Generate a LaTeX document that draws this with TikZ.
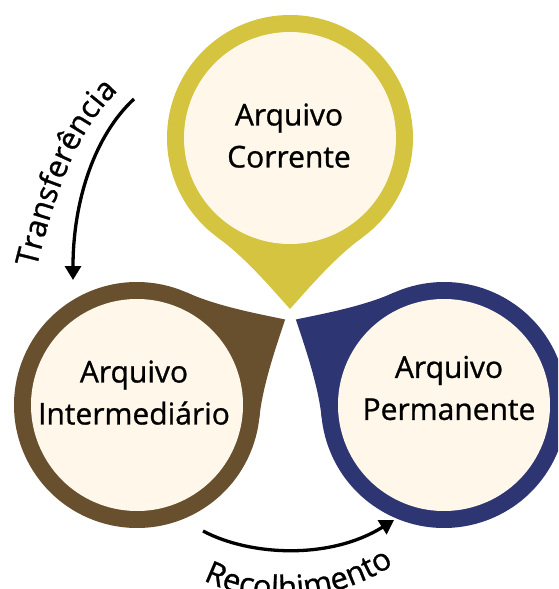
\documentclass[tikz,border=0pt]{standalone}
\usepackage{fontspec}
\setmainfont{Open Sans}[FakeBold=0.9]
\usetikzlibrary{arrows.meta,decorations.text}
\definecolor{pinY}{HTML}{D4C440}
\definecolor{pinB}{HTML}{684F2E}
\definecolor{pinN}{HTML}{2E3573}
\definecolor{cream}{HTML}{FFF8EA}
\newcommand{\nodefont}{\fontsize{30}{42}\selectfont}
\newcommand{\lblfont}{\fontsize{31}{36}\selectfont}
\newcommand{\drawpin}[4]{%
  \begin{scope}[shift={(#1,#2)},rotate=#3]
    \fill[#4] (0,0) circle[radius=123pt];
    \fill[#4] (0,0) -- (-72.3,99.5) .. controls (-44,120) and (-16.7,152.5) .. (0,171)
      .. controls (16.7,152.5) and (44,120) .. (72.3,99.5) -- cycle;
    \fill[cream] (0,0) circle[radius=106pt];
  \end{scope}}
\tikzset{
  boxtext/.style={align=center, font=\nodefont, inner sep=0pt},
  arr/.style={line width=3.3pt, -{Triangle[length=14pt,width=16pt]}},
}
\begin{document}
\begin{tikzpicture}[x=1pt,y=-1pt]
\useasboundingbox (0,0) rectangle (558,589);
\clip (0,0) rectangle (558,589);
\drawpin{290}{138}{0}{pinY}
\drawpin{137}{405}{120}{pinB}
\drawpin{444}{405}{-120}{pinN}
\node[boxtext] (cor) at (289,135.6) {Arquivo\\Corrente};
\node[boxtext] (int) at (134,392.6) {Arquivo\\Intermediário};
\node[boxtext] (per) at (449,388) {Arquivo\\Permanente};
\coordinate (t1) at (134,99);
\coordinate (t2) at (73,280);
\coordinate (r1) at (203,531);
\coordinate (r2) at (394,520);
\draw[arr] (t1) .. controls (95,135) and (73,200) .. (t2);
\draw[arr] (r1) .. controls (250,556) and (330,560) .. (r2);
\path[decorate, decoration={text along path, text={|\lblfont|Transferência}, text align=center}]
  (34,278) .. controls (56,186) and (80,122) .. (126,84);
\path[decorate, decoration={text along path, text={|\lblfont|Recolhimento}, text align=center}]
  (186,570) .. controls (248,612) and (342,607) .. (410,553);
\end{tikzpicture}
\end{document}
